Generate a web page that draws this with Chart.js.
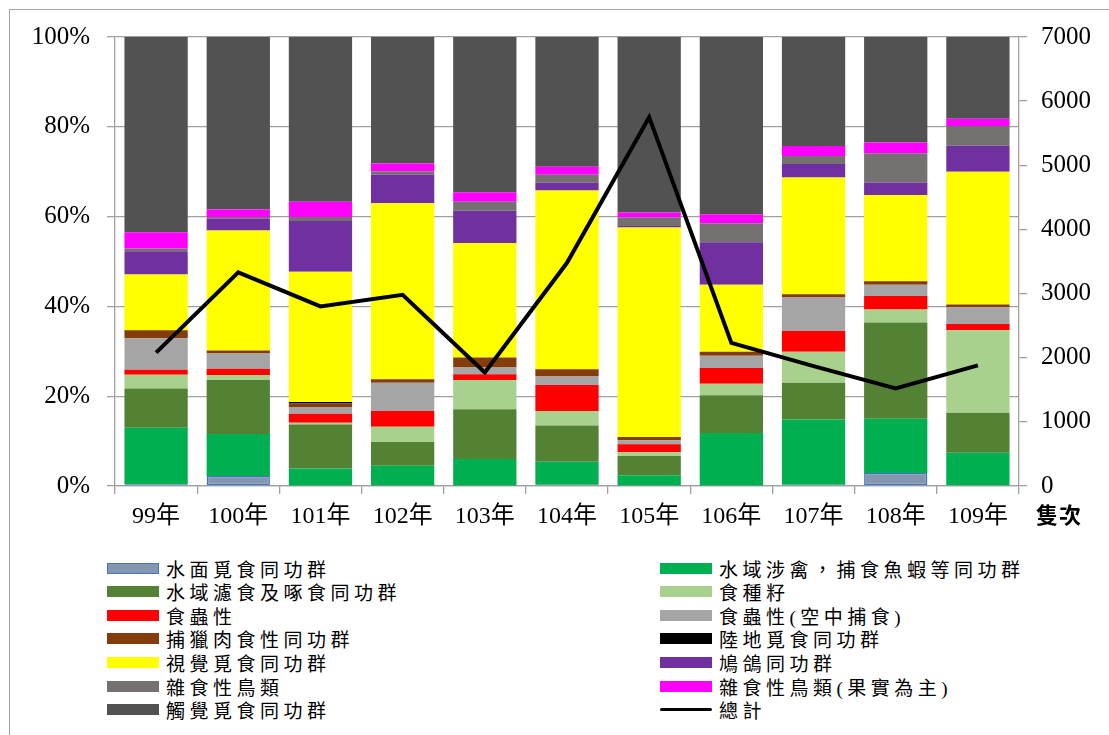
<!DOCTYPE html>
<html>
<head>
<meta charset="utf-8">
<script src="https://cdn.jsdelivr.net/npm/chart.js@4/dist/chart.umd.min.js"></script>
<style>
  html, body { margin: 0; padding: 0; background: #fff; }
  body { width: 1109px; height: 735px; position: relative; overflow: hidden; font-family: "Liberation Serif", "Noto Sans CJK TC", serif; }
  #frame { position: absolute; left: 9px; top: 9px; width: 1120px; height: 760px; border: 1px solid #a6a6a6; box-sizing: border-box; }
  #chart { position: absolute; left: 0; top: 0; }
  #unit { position: absolute; left: 1036px; top: 500px; font: bold 22px "Noto Sans CJK TC", sans-serif; letter-spacing: 1px; line-height: 26px; color: #000; }
  .lg { position: absolute; height: 24px; display: flex; align-items: center; white-space: nowrap; }
  .lg .sw { width: 52px; height: 11px; box-sizing: border-box; margin-right: 7px; flex: none; }
  .lg .ln { width: 52px; height: 0; border-top: 3.5px solid #000; border-radius: 2px; margin-right: 7px; flex: none; }
  .lg .tx { font-size: 19px; letter-spacing: 4.5px; font-family: "Liberation Serif", "Noto Sans CJK TC", serif; color: #000; }
</style>
</head>
<body>
<div id="frame"></div>
<canvas id="chart" width="1109" height="545"></canvas>
<div id="unit">隻次</div>
<div id="legend"></div>
<script>
// Years on the category axis
const years = ['99年', '100年', '101年', '102年', '103年', '104年', '105年', '106年', '107年', '108年', '109年'];

// Share of each guild per year (%), stacked bottom to top
const waterSurface   = [0.4, 2.2, 0.1, 0.1, 0.1, 0.3, 0.1, 0.1, 0.3, 2.9, 0.0];   // 水面覓食同功群
const wadingFish     = [12.6, 9.4, 3.8, 4.4, 5.9, 5.1, 2.3, 11.7, 14.5, 12.1, 7.4]; // 水域涉禽，捕食魚蝦等同功群
const filterPeck     = [8.7, 12.0, 9.8, 5.3, 11.1, 8.1, 4.3, 8.4, 8.2, 21.4, 8.9];  // 水域濾食及啄食同功群
const seedEaters     = [3.1, 1.1, 0.4, 3.4, 6.5, 3.2, 0.8, 2.6, 6.9, 2.9, 18.4];    // 食種籽
const insectivores   = [1.1, 1.4, 2.0, 3.5, 1.3, 5.8, 1.8, 3.5, 4.6, 3.0, 1.4];     // 食蟲性
const aerialInsect   = [7.0, 3.4, 1.5, 6.3, 1.5, 1.9, 0.9, 2.7, 7.6, 2.5, 3.7];     // 食蟲性(空中捕食)
const raptors        = [1.8, 0.7, 0.8, 0.8, 2.2, 1.6, 0.7, 0.9, 0.6, 0.8, 0.6];     // 捕獵肉食性同功群
const groundForage   = [0, 0, 0.3, 0, 0, 0, 0, 0, 0, 0, 0];                          // 陸地覓食同功群
const visualForage   = [12.4, 26.7, 29.0, 39.2, 25.5, 39.8, 46.7, 14.9, 26.0, 19.2, 29.6]; // 視覺覓食同功群
const pigeons        = [5.2, 2.6, 11.3, 6.4, 7.2, 1.8, 0.3, 9.5, 3.0, 2.8, 5.8];    // 鳩鴿同功群
const omnivores      = [0.6, 0.4, 0.9, 0.7, 2.0, 1.7, 1.9, 4.2, 1.8, 6.5, 4.4];     // 雜食性鳥類
const frugivores     = [3.6, 1.7, 3.4, 1.7, 2.1, 1.8, 1.1, 2.0, 2.2, 2.4, 1.6];     // 雜食性鳥類(果實為主)
const tactileForage  = [43.5, 38.4, 36.7, 28.2, 34.6, 28.9, 39.1, 39.5, 24.3, 23.5, 18.2]; // 觸覺覓食同功群

// Total individuals counted per year (right axis)
const totalCount = [2080, 3330, 2800, 2980, 1770, 3480, 5750, 2230, 1870, 1520, 1880];

// Axis ticks
const pctTicks = [0, 20, 40, 60, 80, 100];
const countTicks = [0, 1000, 2000, 3000, 4000, 5000, 6000, 7000];

const series = [
  { label: '水面覓食同功群', data: waterSurface, color: '#8497B0', border: '#4472C4' },
  { label: '水域涉禽，捕食魚蝦等同功群', data: wadingFish, color: '#00B050' },
  { label: '水域濾食及啄食同功群', data: filterPeck, color: '#548235' },
  { label: '食種籽', data: seedEaters, color: '#A9D18E' },
  { label: '食蟲性', data: insectivores, color: '#FF0000' },
  { label: '食蟲性(空中捕食)', data: aerialInsect, color: '#A5A5A5' },
  { label: '捕獵肉食性同功群', data: raptors, color: '#843C0C' },
  { label: '陸地覓食同功群', data: groundForage, color: '#000000' },
  { label: '視覺覓食同功群', data: visualForage, color: '#FFFF00' },
  { label: '鳩鴿同功群', data: pigeons, color: '#7030A0' },
  { label: '雜食性鳥類', data: omnivores, color: '#767171' },
  { label: '雜食性鳥類(果實為主)', data: frugivores, color: '#FF00FF' },
  { label: '觸覺覓食同功群', data: tactileForage, color: '#525252' }
];

const barSets = series.map(s => ({
  type: 'bar',
  label: s.label,
  data: s.data,
  backgroundColor: s.color,
  borderColor: s.border || s.color,
  borderWidth: s.border ? 1.5 : 0,
  borderSkipped: false,
  barPercentage: 0.77,
  categoryPercentage: 1.0,
  yAxisID: 'y',
  order: 1
}));

const lineSet = {
  type: 'line',
  label: '總計',
  data: totalCount,
  borderColor: '#000',
  borderWidth: 4,
  pointRadius: 0,
  tension: 0,
  fill: false,
  yAxisID: 'y2',
  order: 0
};

const serif = '"Liberation Serif", "Noto Sans CJK TC", serif';
const gridGray = '#A0A0A0';

new Chart(document.getElementById('chart'), {
  data: { labels: years, datasets: [...barSets, lineSet] },
  options: {
    responsive: false,
    animation: false,
    devicePixelRatio: 1,
    layout: { padding: { top: 37, left: 0, right: 0, bottom: 0 } },
    plugins: { legend: { display: false }, tooltip: { enabled: false } },
    scales: {
      x: {
        stacked: true,
        offset: true,
        grid: { offset: true, drawOnChartArea: false, drawTicks: true, tickLength: 8, color: gridGray, lineWidth: 1.3 },
        border: { display: true, color: gridGray, width: 1.3 },
        ticks: { color: '#000', font: { family: serif, size: 24 }, padding: 8, maxRotation: 0 },
        afterFit: s => { s.height = 59; }
      },
      y: {
        stacked: true,
        min: 0, max: 100,
        afterBuildTicks: s => { s.ticks = pctTicks.map(v => ({ value: v })); },
        ticks: { color: '#000', font: { family: serif, size: 25 }, padding: 17, callback: v => v + '%' },
        grid: { color: gridGray, lineWidth: 1.3, tickLength: 8 },
        border: { display: true, color: gridGray, width: 1.3 },
        afterFit: s => { s.width = 115; }
      },
      y2: {
        position: 'right',
        min: 0, max: 7000,
        afterBuildTicks: s => { s.ticks = countTicks.map(v => ({ value: v })); },
        ticks: { color: '#000', font: { family: serif, size: 25 }, padding: 14, callback: v => String(v) },
        grid: { drawOnChartArea: false, color: gridGray, lineWidth: 1.3, tickLength: 8 },
        border: { display: true, color: gridGray, width: 1.3 },
        afterFit: s => { s.width = 90; }
      }
    }
  }
});

// Two-column legend below the plot, filled row by row
const legend = document.getElementById('legend');
const entries = [...series.map(s => ({ label: s.label, color: s.color, border: s.border })), { label: '總計', line: true }];
entries.forEach((e, i) => {
  const col = i % 2, row = Math.floor(i / 2);
  const div = document.createElement('div');
  div.className = 'lg';
  div.style.left = (col === 0 ? 107 : 660) + 'px';
  div.style.top = (556 + row * 23.6) + 'px';
  const sw = document.createElement('span');
  if (e.line) {
    sw.className = 'ln';
  } else {
    sw.className = 'sw';
    sw.style.background = e.color;
    if (e.border) sw.style.border = '1.5px solid ' + e.border;
  }
  const tx = document.createElement('span');
  tx.className = 'tx';
  tx.textContent = e.label;
  div.appendChild(sw);
  div.appendChild(tx);
  legend.appendChild(div);
});
</script>
</body>
</html>
